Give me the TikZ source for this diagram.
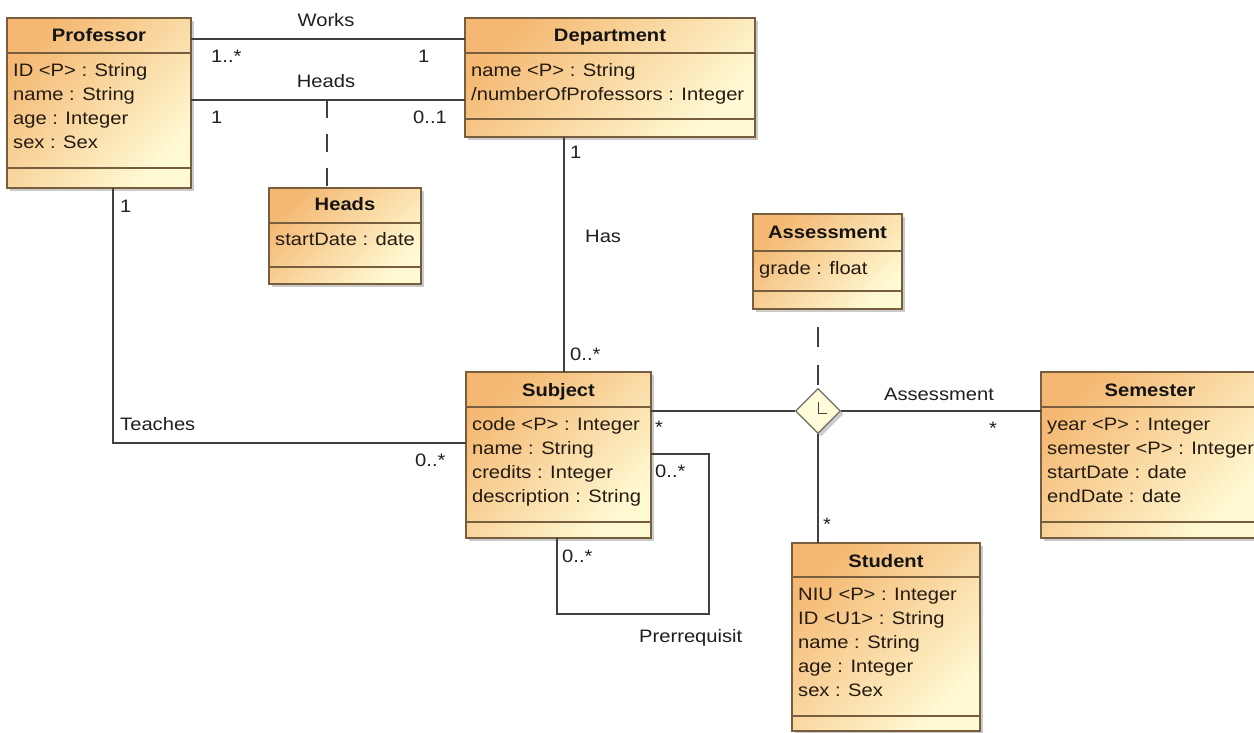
\documentclass[tikz,border=0pt]{standalone}
\usepackage{fontspec}
\setmainfont{Liberation Sans}[FakeStretch=1.12]
\usetikzlibrary{shapes.geometric,shadows}
\definecolor{ctop}{RGB}{244,184,114}
\definecolor{cbot}{RGB}{255,250,212}
\definecolor{bordercol}{RGB}{118,94,62}
\definecolor{linecol}{RGB}{64,64,64}
\definecolor{attrcol}{RGB}{36,27,18}
\definecolor{diafill}{RGB}{255,252,218}
\definecolor{diadraw}{RGB}{110,110,100}
\begin{document}
\begin{tikzpicture}[x=1pt,y=-1pt,font=\fontsize{18}{24}\selectfont,
  cls/.style={draw=bordercol,line width=1.2pt,top color=ctop,bottom color=cbot,shading angle=45,
    drop shadow={shadow xshift=3pt,shadow yshift=-3pt,fill=black!40,opacity=0.5},
    inner sep=0pt,outer sep=0pt,anchor=north west},
  sepline/.style={draw=bordercol,line width=1.2pt},
  clstitle/.style={anchor=base,inner sep=0pt,font=\fontsize{18}{24}\selectfont\bfseries,text=black!92},
  clsattr/.style={anchor=base west,inner sep=0pt,text=attrcol},
  conn/.style={draw=linecol,line width=1.4pt},
  dconn/.style={conn,dash pattern=on 18pt off 16pt},
  lbl/.style={anchor=base west,inner sep=0pt,text=black!88},
  lblc/.style={anchor=base,inner sep=0pt,text=black!88},
  dia/.style={shape=diamond,aspect=1,draw=diadraw,line width=1.2pt,fill=diafill,minimum width=45pt,minimum height=45pt,inner sep=0pt,
    drop shadow={shadow xshift=3pt,shadow yshift=-3pt,fill=black!40,opacity=0.5}}]
\useasboundingbox[fill=white] (0,0) rectangle (1254,733);

% ---------------- Professor
\node[cls,minimum width=184pt,minimum height=170pt] (prof) at (7,18) {};
\draw[sepline] (7,53) -- (191,53);
\draw[sepline] (7,168) -- (191,168);
\node[clstitle] (prof-t) at (99,42) {Professor};
\foreach \t [count=\i] in {ID <P> : String, name : String, age : Integer, sex : Sex}
  \node[clsattr] (prof-a\i) at (13,{77+24*(\i-1)}) {\t};

% ---------------- Department
\node[cls,minimum width=290pt,minimum height=119pt] (dept) at (465,18) {};
\draw[sepline] (465,53) -- (755,53);
\draw[sepline] (465,119) -- (755,119);
\node[clstitle] (dept-t) at (610,42) {Department};
\foreach \t [count=\i] in {name <P> : String, /numberOfProfessors : Integer}
  \node[clsattr] (dept-a\i) at (471,{77+24*(\i-1)}) {\t};

% ---------------- Heads (association class)
\node[cls,minimum width=152pt,minimum height=96pt] (headsc) at (269,188) {};
\draw[sepline] (269,223) -- (421,223);
\draw[sepline] (269,267) -- (421,267);
\node[clstitle] (heads-t) at (345,211) {Heads};
\node[clsattr] (heads-a1) at (275,245) {startDate : date};

% ---------------- Assessment (association class)
\node[cls,minimum width=149pt,minimum height=95pt] (assess) at (753,214) {};
\draw[sepline] (753,251) -- (902,251);
\draw[sepline] (753,291) -- (902,291);
\node[clstitle] (assess-t) at (827.5,238) {Assessment};
\node[clsattr] (assess-a1) at (759,274) {grade : float};

% ---------------- Subject
\node[cls,minimum width=185pt,minimum height=166pt] (subj) at (466,372) {};
\draw[sepline] (466,407) -- (651,407);
\draw[sepline] (466,522) -- (651,522);
\node[clstitle] (subj-t) at (558.5,396) {Subject};
\foreach \t [count=\i] in {code <P> : Integer, name : String, credits : Integer, description : String}
  \node[clsattr] (subj-a\i) at (472,{430+24*(\i-1)}) {\t};

% ---------------- Semester
\node[cls,minimum width=218pt,minimum height=166pt] (sem) at (1041,372) {};
\draw[sepline] (1041,407) -- (1259,407);
\draw[sepline] (1041,522) -- (1259,522);
\node[clstitle] (sem-t) at (1150,396) {Semester};
\foreach \t [count=\i] in {year <P> : Integer, semester <P> : Integer, startDate : date, endDate : date}
  \node[clsattr] (sem-a\i) at (1047,{430+24*(\i-1)}) {\t};

% ---------------- Student
\node[cls,minimum width=188pt,minimum height=188pt] (stud) at (792,543) {};
\draw[sepline] (792,577) -- (980,577);
\draw[sepline] (792,716) -- (980,716);
\node[clstitle] (stud-t) at (886,567) {Student};
\foreach \t [count=\i] in {NIU <P> : Integer, ID <U1> : String, name : String, age : Integer, sex : Sex}
  \node[clsattr] (stud-a\i) at (798,{600+24*(\i-1)}) {\t};

% ---------------- n-ary association diamond
\node[dia] (dia) at (818,411) {};
\draw[draw=linecol,line width=1pt] (818,402) -- (818,413) -- (827,413);

% ---------------- Connectors
% Works
\draw[conn] (prof.north east) ++(0,21) coordinate (w1) -- (w1 -| dept.west);
\node[lblc] (works-l) at (326,27) {Works};
\node[lbl] (works-m1) at (211,63) {1..*};
\node[lbl] (works-m2) at (418,63) {1};
% Heads
\draw[conn] (prof.north east) ++(0,82) coordinate (h1) -- (h1 -| dept.west);
\coordinate (hmid) at (327,100);
\draw[dconn] (hmid) -- (hmid |- headsc.north);
\node[lblc] (heads-l) at (326,88) {Heads};
\node[lbl] (heads-m1) at (211,124) {1};
\node[lbl] (heads-m2) at (413,124) {0..1};
% Has
\draw[conn] (dept.south west) ++(99,0) coordinate (has1) -- (has1 |- subj.north);
\node[lbl] (has-m1) at (570,159) {1};
\node[lbl] (has-l) at (585,242) {Has};
\node[lbl] (has-m2) at (570,360) {0..*};
% Teaches
\draw[conn] (prof.south west) ++(106,0) |- ([yshift=-71pt]subj.north west);
\node[lbl] (teach-m1) at (120,212) {1};
\node[lbl] (teach-l) at (120,430) {Teaches};
\node[lbl] (teach-m2) at (415,466) {0..*};
% Prerrequisit (self loop)
\draw[conn] ([yshift=-82pt]subj.north east) -- ++(58,0) -- ++(0,160) -| ([xshift=91pt]subj.south west);
\node[lbl] (pre-m1) at (655,477) {0..*};
\node[lbl] (pre-m2) at (562,562) {0..*};
\node[lbl] (pre-l) at (639,642) {Prerrequisit};
% Assessment (ternary)
\draw[conn] ([yshift=-39pt]subj.north east) -- (dia.west);
\draw[conn] (dia.east) -- (dia.east -| sem.west);
\draw[conn] (dia.south) -- (dia.south |- stud.north);
\draw[conn,dash pattern=on 20pt off 18pt,dash phase=20pt] (dia.north |- assess.south) -- (dia.north);
\node[lbl] (as-m1) at (655,433) {*};
\node[lblc] (as-l) at (939,400) {Assessment};
\node[lbl] (as-m2) at (989,434) {*};
\node[lbl] (as-m3) at (823,530) {*};
\end{tikzpicture}
\end{document}
